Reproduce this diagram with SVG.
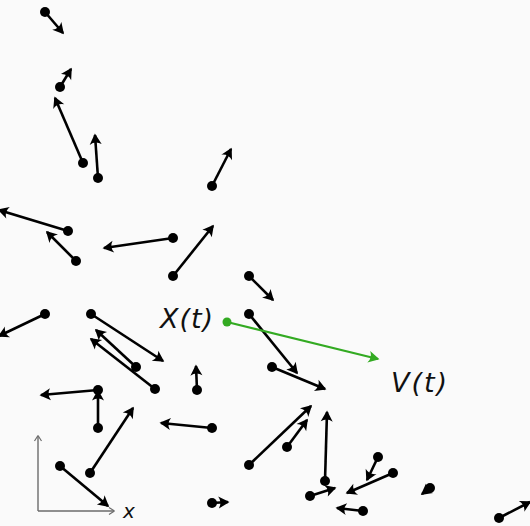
<svg xmlns="http://www.w3.org/2000/svg" width="530" height="526" viewBox="0 0 530 526">
<style>
.v{stroke:#000;stroke-width:2.6;fill:none;marker-end:url(#ah)}
.d{fill:#000}
.ax{stroke:#6b6b6b;stroke-width:1.4;fill:none;marker-end:url(#axh)}
.lbl{font-family:"DejaVu Sans","Liberation Sans",sans-serif;font-style:italic;font-size:27px;fill:#111}
</style>
<defs>
<marker id="ah" markerUnits="userSpaceOnUse" viewBox="-12 -7 15 14" markerWidth="15" markerHeight="14" refX="0" refY="0" orient="auto">
<path d="M1.5 0 L-9.5 -6 Q-5.5 0 -9.5 6 Z" fill="#000"/>
</marker>
<marker id="gh" markerUnits="userSpaceOnUse" viewBox="-12 -7 15 14" markerWidth="15" markerHeight="14" refX="0" refY="0" orient="auto">
<path d="M1.5 0 L-9.5 -6 Q-5.5 0 -9.5 6 Z" fill="#33aa22"/>
</marker>
<marker id="axh" markerUnits="userSpaceOnUse" viewBox="-8 -5 10 10" markerWidth="10" markerHeight="10" refX="0" refY="0" orient="auto">
<path d="M0.5 0 L-5 -3.5 M0.5 0 L-5 3.5" stroke="#6b6b6b" stroke-width="1.2" fill="none"/>
</marker>
</defs>
<rect width="530" height="526" fill="#fafafa"/>
<g id="axes">
<path class="ax" d="M38 511 L38 436"/>
<path class="ax" d="M38 511 L114 511"/>
<text x="123" y="518" font-family="DejaVu Sans,Liberation Sans,sans-serif" font-style="italic" font-size="20" fill="#111">x</text>
</g>
<g id="particles">
<g id="p1"><line class="v" x1="45" y1="12" x2="63" y2="33"/><circle class="d" cx="45" cy="12" r="5"/></g>
<g id="p2"><line class="v" x1="60" y1="87" x2="71" y2="69"/><circle class="d" cx="60" cy="87" r="5"/></g>
<g id="p3"><line class="v" x1="83" y1="163" x2="55" y2="98"/><circle class="d" cx="83" cy="163" r="5"/></g>
<g id="p4"><line class="v" x1="98" y1="178" x2="95" y2="135"/><circle class="d" cx="98" cy="178" r="5"/></g>
<g id="p5"><line class="v" x1="68" y1="231" x2="-1" y2="210"/><circle class="d" cx="68" cy="231" r="5"/></g>
<g id="p6"><line class="v" x1="76" y1="261" x2="47" y2="232"/><circle class="d" cx="76" cy="261" r="5"/></g>
<g id="p7"><line class="v" x1="173" y1="238" x2="104" y2="248"/><circle class="d" cx="173" cy="238" r="5"/></g>
<g id="p8"><line class="v" x1="173" y1="276" x2="213" y2="226"/><circle class="d" cx="173" cy="276" r="5"/></g>
<g id="p9"><line class="v" x1="45" y1="314" x2="-1" y2="336"/><circle class="d" cx="45" cy="314" r="5"/></g>
<g id="p10"><line class="v" x1="91" y1="314" x2="163" y2="361"/><circle class="d" cx="91" cy="314" r="5"/></g>
<g id="p11"><line class="v" x1="136" y1="367" x2="96" y2="330"/><circle class="d" cx="136" cy="367" r="5"/></g>
<g id="p12"><line class="v" x1="155" y1="389" x2="91" y2="339"/><circle class="d" cx="155" cy="389" r="5"/></g>
<g id="p13"><line class="v" x1="212" y1="186" x2="231" y2="149"/><circle class="d" cx="212" cy="186" r="5"/></g>
<g id="p14"><line class="v" x1="249" y1="276" x2="273" y2="300"/><circle class="d" cx="249" cy="276" r="5"/></g>
<g id="p15"><line class="v" x1="98" y1="390" x2="41" y2="395"/><circle class="d" cx="98" cy="390" r="5"/></g>
<g id="p16"><line class="v" x1="98" y1="428" x2="98" y2="391"/><circle class="d" cx="98" cy="428" r="5"/></g>
<g id="p17"><line class="v" x1="90" y1="473" x2="133" y2="408"/><circle class="d" cx="90" cy="473" r="5"/></g>
<g id="p18"><line class="v" x1="60" y1="466" x2="108" y2="506"/><circle class="d" cx="60" cy="466" r="5"/></g>
<g id="p19"><line class="v" x1="249" y1="314" x2="297" y2="373"/><circle class="d" cx="249" cy="314" r="5"/></g>
<g id="p20"><line class="v" x1="272" y1="367" x2="325" y2="389"/><circle class="d" cx="272" cy="367" r="5"/></g>
<g id="p21"><line class="v" x1="197" y1="390" x2="196" y2="366"/><circle class="d" cx="197" cy="390" r="5"/></g>
<g id="p22"><line class="v" x1="212" y1="428" x2="161" y2="423"/><circle class="d" cx="212" cy="428" r="5"/></g>
<g id="p23"><line class="v" x1="249" y1="465" x2="311" y2="406"/><circle class="d" cx="249" cy="465" r="5"/></g>
<g id="p24"><line class="v" x1="287" y1="447" x2="307" y2="420"/><circle class="d" cx="287" cy="447" r="5"/></g>
<g id="p25"><line class="v" x1="325" y1="481" x2="327" y2="412"/><circle class="d" cx="325" cy="481" r="5"/></g>
<g id="p26"><line class="v" x1="310" y1="496" x2="335" y2="488"/><circle class="d" cx="310" cy="496" r="5"/></g>
<g id="p27"><line class="v" x1="212" y1="503" x2="228" y2="502"/><circle class="d" cx="212" cy="503" r="5"/></g>
<g id="p28"><line class="v" x1="363" y1="511" x2="337" y2="508"/><circle class="d" cx="363" cy="511" r="5"/></g>
<g id="p29"><line class="v" x1="378" y1="457" x2="367" y2="480"/><circle class="d" cx="378" cy="457" r="5"/></g>
<g id="p30"><line class="v" x1="393" y1="473" x2="347" y2="493"/><circle class="d" cx="393" cy="473" r="5"/></g>
<g id="p31"><line class="v" x1="430" y1="488" x2="422" y2="494"/><circle class="d" cx="430" cy="488" r="5"/></g>
<g id="p32"><line class="v" x1="499" y1="518" x2="530" y2="502"/><circle class="d" cx="499" cy="518" r="5"/></g>
</g>
<g id="tagged">
<line x1="227" y1="322" x2="378" y2="359" stroke="#33aa22" stroke-width="2.2" marker-end="url(#gh)"/>
<circle cx="227" cy="322" r="4.5" fill="#33aa22"/>
</g>
<g id="labels">
<text class="lbl" x="160" y="328" textLength="53" lengthAdjust="spacing">X(t)</text>
<text class="lbl" x="391" y="392" textLength="56" lengthAdjust="spacing">V(t)</text>
</g>
</svg>
